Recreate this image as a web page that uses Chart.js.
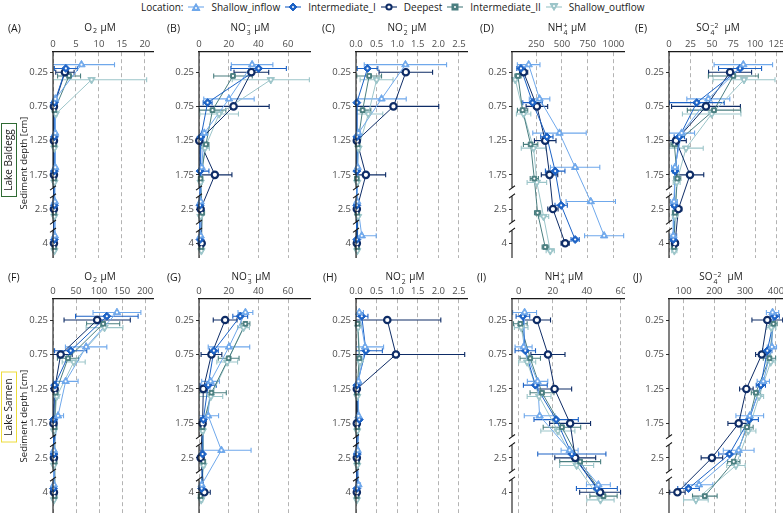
<!DOCTYPE html>
<html><head><meta charset="utf-8">
<script src="https://cdn.jsdelivr.net/npm/chart.js@4.4.1/dist/chart.umd.min.js"></script>
<style>
html,body{margin:0;padding:0;background:#fff;}
body{width:783px;height:513px;position:relative;overflow:hidden;font-family:'Open Sans',sans-serif;color:#1a1a1a;}
.abs{position:absolute;white-space:nowrap;}
.ttl{font-size:10px;transform:translate(-50%,-50%);}
.lbl{font-size:10.5px;transform:translate(0,-50%);}
.ss{display:inline-block;vertical-align:-0.55em;font-size:0.68em;line-height:0.95;text-align:left;margin:0 1px;}
.ss span{display:block;}
.sb{font-size:0.7em;vertical-align:-0.3em;margin:0 1px;}
.vt{font-size:9.5px;transform:translate(-50%,-50%) rotate(-90deg);}
.lake{font-size:10px;box-sizing:border-box;text-align:center;line-height:13px;transform:translate(-50%,-50%) rotate(-90deg);}
#legend{position:absolute;left:141px;top:0;height:13px;display:flex;align-items:center;font-size:10px;white-space:nowrap;}
#legend svg{margin:0 7px 0 5px;}
canvas{position:absolute;}
</style></head><body>
<div id="legend"></div>
<script>
// ---------------- DATA ----------------
const depths = ['0.25','0.75','1.25','1.75','2.5','4'];
const locations = ['Shallow_inflow','Intermediate_I','Deepest','Intermediate_II','Shallow_outflow'];

// tick labels
const ticksO2_Baldegg  = ['0','5','10','15','20'];
const ticksNO3         = ['0','20','40','60'];
const ticksNO2         = ['0.0','0.5','1.0','1.5','2.0','2.5'];
const ticksNH4_Baldegg = ['250','500','750','1000'];
const ticksSO4_Baldegg = ['0','25','50','75','100','125'];
const ticksO2_Sarnen   = ['0','50','100','150','200'];
const ticksNH4_Sarnen  = ['0','20','40','60'];
const ticksSO4_Sarnen  = ['100','200','300','400'];

// rows: Shallow_inflow, Intermediate_I, Deepest, Intermediate_II, Shallow_outflow ; cols: depths
const O2_Baldegg = [
  [6.2, 0.5, 0.5, 0.5, 0.4, 0.4],
  [2.8, 0.3, 0.3, 0.3, 0.3, 0.3],
  [2.6, 0.2, 0.2, 0.2, 0.2, 0.2],
  [3.5, 0.3, 0.3, 0.3, 0.3, 0.3],
  [8.4, 0.6, 0.3, 0.3, 0.3, 0.3]];
const O2_Baldegg_sd = [
  [7.2, 0.3, 0, 0, 0, 0],
  [2.5, 0.2, 0, 0, 0, 0],
  [2.0, 0.2, 0, 0, 0, 0],
  [2.5, 0.2, 0, 0, 0, 0],
  [12, 0.3, 0, 0, 0, 0]];

const NO3_Baldegg = [
  [35.8, 20.2, 3.6, 1.8, 1.1, 1.1],
  [40.2, 5.8, 1.3, 0.7, 0.7, 0.7],
  [35.3, 23.3, 0.2, 10.7, 1.1, 1.8],
  [22.9, 9.1, 4.7, 1.1, 2.2, 1.6],
  [48.4, 13.6, 4.0, 1.1, 1.0, 1.6]];
const NO3_Baldegg_sd = [
  [14, 17, 2, 1, 0.5, 0.5],
  [18.7, 3, 1, 6, 0.5, 0.5],
  [11.7, 24, 0.5, 11.5, 0.5, 1],
  [13, 9, 2, 1, 1, 1],
  [26, 13, 3, 1, 0.5, 0.5]];

const NO2_Baldegg = [
  [1.2, 0.62, 0.06, 0.04, 0.03, 0.14],
  [0.28, 0.02, 0.02, 0.02, 0.02, 0.02],
  [1.21, 0.91, 0.02, 0.24, 0.02, 0.02],
  [0.32, 0.16, 0.04, 0.02, 0.03, 0.03],
  [0.5, 0.3, 0.06, 0.03, 0.05, 0.03]];
const NO2_Baldegg_sd = [
  [1.0, 0.6, 0.05, 0.03, 0.03, 0.35],
  [0.25, 0.02, 0.01, 0.01, 0.01, 0.01],
  [0.65, 1.1, 0.01, 0.48, 0.01, 0.01],
  [0.3, 0.2, 0.03, 0.02, 0.02, 0.02],
  [0.4, 0.35, 0.05, 0.02, 0.03, 0.02]];

const NH4_Baldegg = [
  [176, 282, 476, 628, 780, 910],
  [101, 214, 353, 434, 492, 628],
  [127, 256, 337, 379, 412, 531],
  [72, 117, 195, 231, 263, 337],
  [46, 127, 224, 256, 321, 386]];
const NH4_Baldegg_sd = [
  [110, 100, 260, 240, 240, 190],
  [40, 95, 60, 95, 60, 40],
  [40, 105, 105, 80, 50, 40],
  [30, 50, 70, 40, 30, 30],
  [30, 70, 120, 95, 50, 40]];

const SO4_Baldegg = [
  [86.4, 45.7, 14.7, 7, 5.8, 5],
  [82.6, 32.2, 12, 7, 6.2, 5],
  [71, 43, 8.1, 24.4, 10.9, 7],
  [74.8, 52.3, 6.2, 9.7, 7, 5.8],
  [87.2, 49.6, 19.8, 8.9, 7, 6.2]];
const SO4_Baldegg_sd = [
  [34, 25, 15, 4, 4, 4],
  [25, 32, 6, 3, 3, 3],
  [25, 40, 12, 16, 4, 4],
  [29, 31, 4, 4, 3, 3],
  [36, 34, 20, 4, 3, 3]];

const O2_Sarnen = [
  [139, 72, 27.5, 10.9, 2, 2],
  [117, 38.4, 3.6, 1, 2, 1],
  [96, 16.7, 3.6, 1, 2, 2],
  [109, 32.6, 5.8, 3.6, 3.6, 3.6],
  [112, 45, 8, 2, 2, 2]];
const O2_Sarnen_sd = [
  [52, 45, 27, 12, 1, 1],
  [68, 35, 3, 1, 1, 1],
  [72, 25, 3, 1, 1, 1],
  [36, 23, 4, 2, 2, 2],
  [40, 25, 5, 1, 1, 1]];

const NO3_Sarnen = [
  [31.3, 20.2, 7.8, 6.2, 15.1, 1.8],
  [27.8, 10, 6.2, 2.9, 2.4, 1.8],
  [17.6, 8.4, 2.9, 2.4, 1.1, 3.6],
  [31.3, 20, 8.4, 2.4, 2.9, 1.1],
  [30, 19, 8, 2.5, 3, 1.5]];
const NO3_Sarnen_sd = [
  [5, 14, 6, 7, 20, 1],
  [5, 3, 5.5, 2, 1, 1],
  [8, 7, 2, 2, 0.5, 4],
  [3, 7, 10, 1, 1, 1],
  [4, 7, 8, 1, 1, 1]];

const NO2_Sarnen = [
  [0.08, 0.22, 0.06, 0.06, 0.04, 0.06],
  [0.14, 0.24, 0.02, 0.08, 0.03, 0.02],
  [0.76, 0.97, 0.02, 0.02, 0.02, 0.02],
  [0.04, 0.08, 0.02, 0.03, 0.03, 0.02],
  [0.05, 0.1, 0.03, 0.03, 0.03, 0.02]];
const NO2_Sarnen_sd = [
  [0.1, 0.45, 0.03, 0.03, 0.03, 0.05],
  [0.15, 0.4, 0.01, 0.05, 0.02, 0.01],
  [1.3, 1.67, 0.01, 0.01, 0.01, 0.01],
  [0.02, 0.03, 0.01, 0.01, 0.01, 0.01],
  [0.03, 0.05, 0.01, 0.01, 0.01, 0.01]];

const NH4_Sarnen = [
  [3.5, 2.9, 11.1, 12.3, 29.9, 46.8],
  [2.5, 3.9, 9.8, 22, 31.2, 45.9],
  [10.7, 17.2, 21.1, 30.2, 33.2, 47.8],
  [1, 6.8, 13.7, 25.4, 36.1, 49.8],
  [1.5, 5, 12, 23, 34, 48]];
const NH4_Sarnen_sd = [
  [7, 5, 6, 9, 5, 7],
  [4, 6, 7, 13, 20, 12],
  [8, 10, 10, 12, 12, 12],
  [4, 6, 7, 11, 12, 8],
  [4, 5, 7, 10, 10, 8]];

const SO4_Sarnen = [
  [389, 387, 359, 315, 279, 150],
  [396, 372, 351, 313, 249, 116],
  [372, 354, 304, 279, 192, 80],
  [392, 379, 335, 306, 263, 169],
  [385, 383, 345, 310, 270, 140]];
const SO4_Sarnen_sd = [
  [20, 15, 20, 45, 50, 45],
  [15, 15, 15, 30, 35, 35],
  [50, 20, 22, 35, 35, 25],
  [12, 20, 15, 20, 20, 40],
  [15, 15, 15, 25, 30, 40]];

// ---------------- STYLE / LAYOUT ----------------
const colors = ['#6FA8EB','#1C62C5','#0E2C66','#4B7F80','#9CC5C9'];
const pStyles = ['triangle','rectRot','circle','rect','triangle'];
const pRot = [0,0,0,0,180];
const pRad = [4.3,4.0,3.2,3.3,4.3];
const dodge = [-0.22,-0.11,0,0.11,0.22];

const rows = [
  {y0:52, y1:258, ymin:-0.59, ymax:5.43, ty:28},
  {y0:299, y1:513, ymin:-0.61, ymax:5.6, ty:277}
];
const stack = (sup, sub) => `<span class="ss"><span>${sup}</span><span>${sub}</span></span>`;
const T_O2 = 'O<span class="sb">2</span> µM';
const T_NO3 = 'NO' + stack('−','3') + ' µM';
const T_NO2 = 'NO' + stack('−','2') + ' µM';
const T_NH4 = 'NH' + stack('+','4') + ' µM';
const T_SO4 = 'SO' + stack('−2','4') + '&nbsp; µM';

const panels = [
  {L:'(A)', lx:8,   tx:100, title:T_O2,  row:0, x0:53,  x1:154, xmin:0,    xmax:22,    data:O2_Baldegg,  sd:O2_Baldegg_sd,  ticks:ticksO2_Baldegg},
  {L:'(B)', lx:167, tx:250, title:T_NO3, row:0, x0:199, x1:311, xmin:0,    xmax:75.5,  data:NO3_Baldegg, sd:NO3_Baldegg_sd, ticks:ticksNO3},
  {L:'(C)', lx:322, tx:407, title:T_NO2, row:0, x0:356, x1:468, xmin:0,    xmax:2.72,  data:NO2_Baldegg, sd:NO2_Baldegg_sd, ticks:ticksNO2},
  {L:'(D)', lx:480, tx:567, title:T_NH4, row:0, x0:512, x1:625, xmin:14,   xmax:1113,  data:NH4_Baldegg, sd:NH4_Baldegg_sd, ticks:ticksNH4_Baldegg},
  {L:'(E)', lx:635, tx:718, title:T_SO4, row:0, x0:669, x1:783, xmin:0,    xmax:132.5, data:SO4_Baldegg, sd:SO4_Baldegg_sd, ticks:ticksSO4_Baldegg},
  {L:'(F)', lx:8,   tx:100, title:T_O2,  row:1, x0:53,  x1:154, xmin:0,    xmax:219.5, data:O2_Sarnen,   sd:O2_Sarnen_sd,   ticks:ticksO2_Sarnen},
  {L:'(G)', lx:167, tx:251, title:T_NO3, row:1, x0:199, x1:311, xmin:0,    xmax:75.5,  data:NO3_Sarnen,  sd:NO3_Sarnen_sd,  ticks:ticksNO3},
  {L:'(H)', lx:323, tx:405, title:T_NO2, row:1, x0:356, x1:468, xmin:0,    xmax:2.72,  data:NO2_Sarnen,  sd:NO2_Sarnen_sd,  ticks:ticksNO2},
  {L:'(I)', lx:477, tx:564, title:T_NH4, row:1, x0:512, x1:625, xmin:-3.9, xmax:62.4,  data:NH4_Sarnen,  sd:NH4_Sarnen_sd,  ticks:ticksNH4_Sarnen},
  {L:'(J)', lx:633, tx:721, title:T_SO4, row:1, x0:669, x1:783, xmin:52.6, xmax:423,   data:SO4_Sarnen,  sd:SO4_Sarnen_sd,  ticks:ticksSO4_Sarnen}
];

Chart.defaults.font.family = "'Open Sans', sans-serif";
Chart.defaults.devicePixelRatio = 1;

const errPlugin = {
  id:'errbars',
  beforeDatasetsDraw(chart){
    const {ctx, chartArea:a, scales:{x,y}} = chart;
    ctx.save();
    ctx.beginPath(); ctx.rect(a.left, a.top-6, a.right-a.left+2, a.bottom-a.top+12); ctx.clip();
    chart.data.datasets.forEach(ds=>{
      if (!ds.isPoints) return;
      ctx.strokeStyle = ds.pointBorderColor; ctx.lineWidth = 1.1;
      ds.data.forEach(pt=>{
        if (!pt.sd) return;
        const xa = x.getPixelForValue(pt.x - pt.sd), xb = x.getPixelForValue(pt.x + pt.sd);
        const yy = y.getPixelForValue(pt.y);
        ctx.beginPath();
        ctx.moveTo(xa, yy); ctx.lineTo(xb, yy);
        ctx.moveTo(xa, yy-2.5); ctx.lineTo(xa, yy+2.5);
        ctx.moveTo(xb, yy-2.5); ctx.lineTo(xb, yy+2.5);
        ctx.stroke();
      });
    });
    ctx.restore();
  }
};
// small white centre dot on every marker (ggplot-style look)
const dotPlugin = {
  id:'centreDots',
  afterDatasetsDraw(chart){
    const {ctx} = chart;
    ctx.save(); ctx.fillStyle = '#ffffff';
    chart.data.datasets.forEach((ds, di)=>{
      if (!ds.isPoints) return;
      chart.getDatasetMeta(di).data.forEach(el=>{
        ctx.beginPath(); ctx.arc(el.x, el.y, ds.dotR, 0, Math.PI*2); ctx.fill();
      });
    });
    ctx.restore();
  }
};
const axisPlugin = {
  id:'brokenAxis',
  afterDraw(chart){
    const {ctx, chartArea:a, scales:{y}} = chart;
    const x = a.left, g = 4;
    const b = [3.5, 4.5].map(v=>y.getPixelForValue(v));
    ctx.save();
    ctx.strokeStyle = '#1a1a1a'; ctx.lineWidth = 1.1;
    ctx.beginPath();
    const segs = [[a.top, b[0]-g],[b[0]+g, b[1]-g],[b[1]+g, a.bottom]];
    segs.forEach(s=>{ctx.moveTo(x, s[0]); ctx.lineTo(x, s[1]);});
    [b[0]-g, b[0]+g, b[1]-g, b[1]+g].forEach(yy=>{ctx.moveTo(x-3, yy+2.2); ctx.lineTo(x+3, yy-2.2);});
    ctx.stroke();
    ctx.restore();
  }
};

const YW = 50, XH = 22;
function addDiv(cls, html, left, top, extra){
  const d = document.createElement('div');
  d.className = 'abs ' + cls; d.innerHTML = html;
  d.style.left = left + 'px'; d.style.top = top + 'px';
  if (extra) Object.assign(d.style, extra);
  document.body.appendChild(d);
  return d;
}

panels.forEach(p=>{
  const r = rows[p.row];
  const cv = document.createElement('canvas');
  const left = p.x0 - YW, top = r.y0 - XH;
  const w = p.x1 - left, h = r.y1 - top;
  cv.width = w; cv.height = h;
  cv.style.left = left + 'px'; cv.style.top = top + 'px';
  cv.style.width = w + 'px'; cv.style.height = h + 'px';
  document.body.appendChild(cv);

  const lineSets = [], pointSets = [];
  locations.forEach((loc, i)=>{
    const pts = p.data[i].map((v, j)=>({x:v, y:j + dodge[i], sd:p.sd[i][j]}));
    lineSets.push({label:loc, data:pts, showLine:true, borderColor:colors[i], borderWidth:1,
      pointRadius:0, fill:false, clip:false, order:10});
    const ring = i === 2;
    pointSets.push({label:loc, isPoints:true, data:pts, showLine:false, pointStyle:pStyles[i], rotation:pRot[i],
      pointRadius:pRad[i], pointBackgroundColor: ring ? '#ffffff' : colors[i], pointBorderColor:colors[i],
      pointBorderWidth: ring ? 2.2 : 1, dotR: ring ? 0 : 1.1,
      clip:false, order:1});
  });
  const tickVals = p.ticks.map(Number);

  new Chart(cv, {
    type:'scatter',
    data:{datasets:[...lineSets, ...pointSets]},
    options:{
      responsive:false, animation:false, events:[],
      layout:{padding:0, autoPadding:false},
      plugins:{legend:{display:false}, tooltip:{enabled:false}},
      scales:{
        x:{type:'linear', position:'top', min:p.xmin, max:p.xmax,
          afterBuildTicks:s=>{s.ticks = tickVals.map(v=>({value:v}));},
          afterFit:s=>{s.height = XH; s.paddingLeft = 0; s.paddingRight = 0;},
          ticks:{color:'#4d4d4d', font:{size:9.5}, padding:2, maxRotation:0, autoSkip:false,
            callback:(v, i)=>p.ticks[i]},
          grid:{display:true, drawOnChartArea:true, drawTicks:false, color:'#b3b3b3', lineWidth:1},
          border:{display:true, color:'#1a1a1a', width:1.2, dash:[4,3]}
        },
        y:{type:'linear', reverse:true, min:r.ymin, max:r.ymax,
          afterBuildTicks:s=>{s.ticks = depths.map((d, i)=>({value:i}));},
          afterFit:s=>{s.width = YW; s.paddingTop = 0; s.paddingBottom = 0;},
          ticks:{color:'#4d4d4d', font:{size:9.5}, padding:2, autoSkip:false,
            callback:(v)=>depths[Math.round(v)]},
          grid:{display:true, drawOnChartArea:false, drawTicks:true, tickLength:3, color:'#333', lineWidth:1},
          border:{display:false}
        }
      }
    },
    plugins:[errPlugin, dotPlugin, axisPlugin]
  });

  addDiv('lbl', p.L, p.lx, r.ty);
  addDiv('ttl', p.title, p.tx, r.ty);
});

// axis titles and lake labels
addDiv('vt', 'Sediment depth [cm]', 23, 163);
addDiv('vt', 'Sediment depth [cm]', 23, 416);
addDiv('lake', 'Lake Baldegg', 9, 160, {width:74+'px', height:16+'px', border:'1.5px solid #2F6B33'});
addDiv('lake', 'Lake Sarnen', 9, 407, {width:71+'px', height:16+'px', border:'1.5px solid #EDDC3C'});

// legend
function markerSVG(i){
  const c = colors[i];
  let s;
  if (i===0) s = `<polygon points="8,1.5 12,8.5 4,8.5"/>`;
  else if (i===1) s = `<polygon points="8,1 12,5 8,9 4,5"/>`;
  else if (i===2) s = `<circle cx="8" cy="5" r="2.6"/>`;
  else if (i===3) s = `<rect x="5" y="2" width="6" height="6"/>`;
  else s = `<polygon points="4,1.5 12,1.5 8,8.5"/>`;
  const ring = i === 2;
  return `<svg width="16" height="10" viewBox="0 0 16 10"><line x1="0" y1="5" x2="16" y2="5" stroke="${c}" stroke-width="1.1"/>` +
    `<g fill="${ring ? '#fff' : c}" stroke="${c}" stroke-width="${ring ? 2 : 1}">${s}</g>` +
    (ring ? '' : `<circle cx="8" cy="${i===0?6:(i===4?4:5)}" r="1" fill="#fff"/>`) + `</svg>`;
}
const lg = document.getElementById('legend');
let html = '<span>Location:</span>';
locations.forEach((loc, i)=>{ html += markerSVG(i) + `<span>${loc}</span>`; });
lg.innerHTML = html;
</script>
</body></html>
